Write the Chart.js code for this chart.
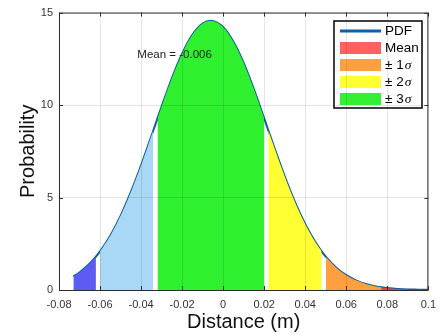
<!DOCTYPE html>
<html>
<head>
<meta charset="utf-8">
<script src="https://cdn.jsdelivr.net/npm/chart.js@4.4.1/dist/chart.umd.min.js"></script>
<style>
html,body{margin:0;padding:0;background:#fff;}
#wrap{width:444px;height:335px;position:relative;}
</style>
</head>
<body>
<div id="wrap"><canvas id="c" width="444" height="335"></canvas></div>
<script>
// Curve (distance in m, probability density)
const distance = [-0.073,-0.070,-0.065,-0.062,-0.060,-0.055,-0.050,-0.045,-0.040,-0.034,-0.032,-0.030,-0.025,-0.020,-0.015,-0.010,-0.006,0.000,0.005,0.010,0.015,0.020,0.022,0.025,0.030,0.035,0.040,0.045,0.048,0.050,0.055,0.060,0.065,0.070,0.075,0.077,0.080,0.085,0.090,0.095,0.100];
const probability = [0.73,0.95,1.43,1.80,2.09,2.94,4.01,5.29,6.74,8.64,9.28,9.92,11.45,12.78,13.80,14.41,14.56,14.21,13.43,12.28,10.85,9.28,8.64,7.68,6.14,4.75,3.56,2.58,2.09,1.80,1.22,0.80,0.51,0.31,0.18,0.15,0.11,0.06,0.03,0.02,0.01];
// Shaded bands (start, end)
const bandStart = [-0.073,-0.060,-0.032,0.022,0.050,0.077];
const bandEnd   = [-0.062,-0.034,0.020,0.048,0.077,0.090];
const bandColors = ['#5c5cf5','#a8d8f5','#2ef02e','#ffff33','#ffa040','#e04050'];
const meanValue = -0.006;
const meanTop = 14.62;
const xTicks = [-0.08,-0.06,-0.04,-0.02,0,0.02,0.04,0.06,0.08,0.1];
const yTicks = [0,5,10,15];
const legendLabels = ['PDF','Mean','± 1','± 2','± 3'];
const legendColors = ['#1060a8','#ff6060','#ffa040','#ffff33','#33f033'];

const curve = distance.map((x,i)=>({x:x,y:probability[i]}));
const datasets = [];
bandStart.forEach((s,k)=>{
  datasets.push({
    data: curve.filter(p=>p.x>=s-1e-9 && p.x<=bandEnd[k]+1e-9),
    backgroundColor: bandColors[k],
    borderWidth: 0,
    pointRadius: 0,
    fill: 'origin',
    cubicInterpolationMode: 'monotone'
  });
});
datasets.push({
  data: curve,
  borderColor: '#0f5d9e',
  borderWidth: 2,
  pointRadius: 0,
  fill: false,
  cubicInterpolationMode: 'monotone'
});
datasets.push({
  data: [{x:meanValue,y:0},{x:meanValue,y:meanTop}],
  borderColor: '#111',
  borderWidth: 2,
  borderDash: [7,6],
  pointRadius: 0,
  fill: false
});

const extras = {
  id: 'extras',
  afterDatasetsDraw(chart){
    const ctx = chart.ctx, a = chart.chartArea;
    const xs = chart.scales.x, ys = chart.scales.y;
    ctx.save();
    // box
    ctx.strokeStyle = '#333'; ctx.lineWidth = 1;
    ctx.strokeRect(a.left+0.5, a.top+0.5, a.right-a.left-1, a.bottom-a.top);
    // inside ticks
    ctx.beginPath();
    xTicks.forEach(t=>{ const px = Math.round(xs.getPixelForValue(t))+0.5;
      ctx.moveTo(px,a.top); ctx.lineTo(px,a.top+4);
      ctx.moveTo(px,a.bottom); ctx.lineTo(px,a.bottom-4); });
    yTicks.forEach(t=>{ const py = Math.round(ys.getPixelForValue(t))+0.5;
      ctx.moveTo(a.left,py); ctx.lineTo(a.left+4,py);
      ctx.moveTo(a.right,py); ctx.lineTo(a.right-4,py); });
    ctx.stroke();
    // mean label
    ctx.font = '11.5px "Liberation Sans", Arial, sans-serif';
    ctx.fillStyle = '#222'; ctx.textAlign = 'right'; ctx.textBaseline = 'middle';
    ctx.fillText('Mean = ' + meanValue.toFixed(3), xs.getPixelForValue(meanValue)+1, ys.getPixelForValue(12.7));
    // legend
    const bx = 334, by = 21, bw = 88, bh = 87;
    ctx.fillStyle = '#fff'; ctx.fillRect(bx,by,bw,bh);
    ctx.strokeStyle = '#000'; ctx.lineWidth = 1.5; ctx.strokeRect(bx,by,bw,bh);
    ctx.textAlign = 'left';
    legendLabels.forEach((lab,i)=>{
      const cy = by + 10 + i*17;
      if(i===0){
        ctx.strokeStyle = legendColors[0]; ctx.lineWidth = 3;
        ctx.beginPath(); ctx.moveTo(340,cy); ctx.lineTo(381,cy); ctx.stroke();
      } else {
        ctx.fillStyle = legendColors[i]; ctx.fillRect(340,cy-6,41,12);
      }
      ctx.fillStyle = '#000';
      ctx.font = '13.5px "Liberation Sans", Arial, sans-serif';
      ctx.fillText(lab, 385, cy+0.5);
      if(i>=2){
        const w = ctx.measureText(lab).width;
        ctx.font = 'italic 13.5px "Liberation Serif", "Times New Roman", serif';
        ctx.fillText('σ', 385+w+1, cy+0.5);
      }
    });
    ctx.restore();
  }
};

new Chart(document.getElementById('c'), {
  type: 'line',
  data: { datasets },
  options: {
    responsive: false,
    animation: false,
    layout: { padding: { top: 11, right: 14, left: 0, bottom: 0 } },
    plugins: { legend: { display: false }, tooltip: { enabled: false } },
    scales: {
      x: {
        type: 'linear', min: -0.08, max: 0.1,
        afterBuildTicks: s => { s.ticks = xTicks.map(v=>({value:v})); },
        afterFit: s => { s.height = 45; },
        grid: { color: 'rgba(0,0,0,0.10)', drawTicks: false, z: 1 },
        border: { display: false },
        ticks: {
          padding: 8, color: '#333', maxRotation: 0, autoSkip: false,
          font: { family: '"Liberation Sans", Arial, sans-serif', size: 11 },
          callback: v => { const r = Number(v.toFixed(2)); return r === 0 ? '0' : String(r); }
        },
        title: { display: true, text: 'Distance (m)', color: '#111', padding: { top: 0, bottom: 1 },
          font: { family: '"Liberation Sans", Arial, sans-serif', size: 20 } }
      },
      y: {
        min: 0, max: 15,
        afterBuildTicks: s => { s.ticks = yTicks.map(v=>({value:v})); },
        afterFit: s => { s.width = 59; },
        grid: { color: 'rgba(0,0,0,0.10)', drawTicks: false, z: 1 },
        border: { display: false },
        ticks: { padding: 6, color: '#333',
          font: { family: '"Liberation Sans", Arial, sans-serif', size: 11 } },
        title: { display: true, text: 'Probability', color: '#111', padding: { top: 16, bottom: 0 },
          font: { family: '"Liberation Sans", Arial, sans-serif', size: 20 } }
      }
    }
  },
  plugins: [extras]
});
</script>
</body>
</html>
